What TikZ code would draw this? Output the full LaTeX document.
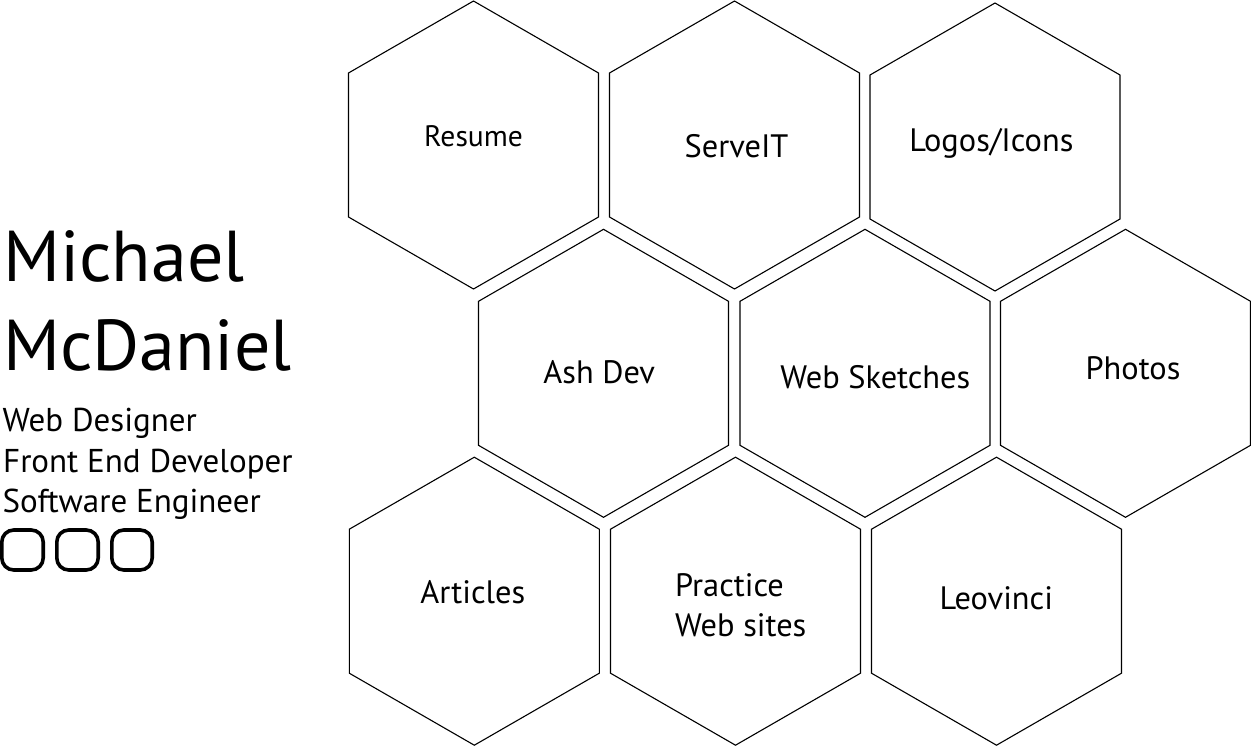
\documentclass[tikz,border=0pt]{standalone}
\usepackage{fontspec}
\setmainfont{PT Sans}
\begin{document}
\begin{tikzpicture}[x=1pt,y=-1pt,
  hexline/.style={draw=black,line width=1.1pt,line join=miter},
  hexlabel/.style={anchor=base,inner sep=0pt,font=\fontsize{32.4}{40}\selectfont},
  sidetext/.style={anchor=base west,inner sep=0pt,font=\fontsize{32.4}{40}\selectfont},
  roletext/.style={anchor=base west,inner sep=0pt,font=\fontsize{33}{40}\selectfont},
  nametext/.style={anchor=base west,inner sep=0pt,font=\fontsize{72}{88}\selectfont},
  iconbox/.style={draw=black,line width=3.6pt,rounded corners=12pt}]
\fill[white] (0,0) rectangle (1251,747);
\useasboundingbox (0,0) rectangle (1251,747);
\newcommand\hexcell[3]{%
  \coordinate (#3) at (#1,#2);
  \draw[hexline] (#3) ++(0,-144) -- ++(125,72) -- ++(0,144) -- ++(-125,72) -- ++(-125,-72) -- ++(0,-144) -- cycle;}
% row 1
\hexcell{473.5}{145}{hresume}
\hexcell{734.5}{145}{hserve}
\hexcell{995}{147}{hlogos}
% row 2
\hexcell{603.5}{373.3}{hash}
\hexcell{865}{373.3}{hweb}
\hexcell{1125.5}{373.3}{hphotos}
% row 3
\hexcell{474.3}{601.2}{harticles}
\hexcell{735.5}{601.2}{hpractice}
\hexcell{996.5}{601.2}{hleo}
% labels
\node[hexlabel,font=\fontsize{29.6}{36}\selectfont] (tresume) at (473.6,146.7) {Resume};
\node[hexlabel] (tserve) at (736.5,157.7) {ServeIT};
\node[hexlabel] (tlogos) at (991.3,151.7) {Logos/Icons};
\node[hexlabel] (tash) at (599.2,383.3) {Ash Dev};
\node[hexlabel] (tweb) at (875.3,388.3) {Web Sketches};
\node[hexlabel] (tphotos) at (1133,379.3) {Photos};
\node[hexlabel] (tarticles) at (472.8,603.7) {Articles};
\node[sidetext] (tpractice1) at (675,596) {Practice};
\node[sidetext] (tpractice2) at (675,636) {Web sites};
\node[hexlabel] (tleo) at (996.3,609.7) {Leovinci};
% left column
\node[nametext] (first) at (3,281.7) {Michael};
\node[nametext] (last) at (3,370) {McDaniel};
\node[roletext] (role1) at (2.5,431.7) {Web Designer};
\node[roletext] (role2) at (3,472.3) {Front End Developer};
\node[roletext] (role3) at (2.5,512.3) {Software Engineer};
\draw[iconbox] (1.8,530) rectangle (43.2,570) node[coordinate] (icon1) {};
\draw[iconbox] (56.8,530) rectangle (98.2,570) node[coordinate] (icon2) {};
\draw[iconbox] (111.8,530) rectangle (152.2,570) node[coordinate] (icon3) {};
\end{tikzpicture}
\end{document}
